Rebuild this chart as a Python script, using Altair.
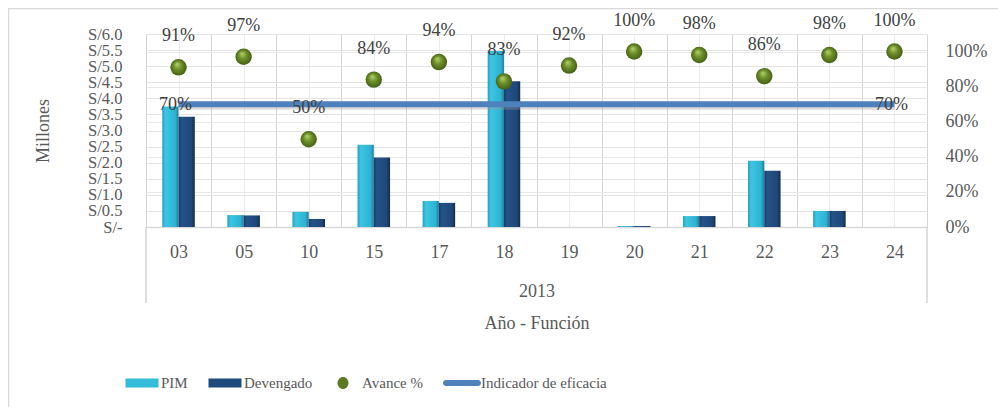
import json
import altair as alt
import pandas as pd

# ---- data ----
funciones = ['03', '05', '10', '15', '17', '18', '19', '20', '21', '22', '23', '24']
pim = [3.75, 0.37, 0.47, 2.56, 0.81, 5.47, 0.0, 0.03, 0.34, 2.06, 0.50, 0.0]
devengado = [3.43, 0.36, 0.25, 2.16, 0.75, 4.53, 0.0, 0.03, 0.34, 1.75, 0.50, 0.0]
avance = [0.91, 0.97, 0.50, 0.84, 0.94, 0.83, 0.92, 1.00, 0.98, 0.86, 0.98, 1.00]
indicador = [0.70] * 12
anio = '2013'
series = ['PIM', 'Devengado', 'Avance %', 'Indicador de eficacia']
left_ticks = [i * 0.5 for i in range(13)]
right_ticks = [0, 0.2, 0.4, 0.6, 0.8, 1.0]

df = pd.DataFrame({
    'idx': list(range(len(funciones))),
    'funcion': funciones,
    'pim': pim,
    'dev': devengado,
    'avance': avance,
    'ind': indicador,
})

FONT = 'Liberation Serif'
TXT = '#595959'
GRID = '#D9D9D9'
W, H = 781, 193
n = len(funciones)

xscale = alt.Scale(domain=[-0.5, n - 0.5], nice=False, zero=False)
xvals = [-0.5 + 0.5 * k for k in range(2 * n + 1)]
xaxis = alt.Axis(
    values=xvals,
    labelExpr="datum.value % 1 == 0 ? " + json.dumps(funciones) + "[datum.value] : ''",
    labelFlush=False, labelOverlap=False,
    grid=True,
    gridColor={"condition": {"test": "datum.value % 1 != 0", "value": "#D4D4D4"}, "value": "#ECECEC"},
    ticks=False, domainColor=GRID, domainWidth=1.5,
    labelFont=FONT, labelFontSize=18, labelColor=TXT, labelPadding=16,
    title=[anio, 'Año - Función'], titleFont=FONT, titleFontSize=18,
    titleFontWeight='normal', titleColor=TXT, titleBaseline='top',
    titleLineHeight=32, titleY=55, titleX=W / 2,
)


def X(field):
    return alt.X(field, scale=xscale, axis=xaxis)


yl_scale = alt.Scale(domain=[0, 6], nice=False, zero=True)
yl_axis = alt.Axis(
    orient='left', values=left_ticks,
    labelExpr="datum.value == 0 ? 'S/-' : 'S/' + format(datum.value, '.1f')",
    labelOverlap=False, labelFlush=False, ticks=False, domain=False,
    grid=True, gridColor='#E3E3E3',
    labelFont=FONT, labelFontSize=16.5, labelColor=TXT, labelPadding=24,
    title='Millones', titleFont=FONT, titleFontSize=18, titleFontWeight='normal',
    titleColor=TXT, titleX=-94, titleY=H / 2, titleAngle=-90, titleBaseline='bottom',
)

yr_scale = alt.Scale(domain=[0, 1.1], nice=False, zero=True)
yr_axis = alt.Axis(
    orient='right', values=right_ticks, format='.0%',
    labelOverlap=False, labelFlush=False, ticks=False, domain=False,
    grid=True, gridColor='#E8E8E8',
    labelFont=FONT, labelFontSize=18, labelColor=TXT, labelPadding=18,
    title=None,
)

pim_grad = alt.LinearGradient(
    gradient='linear', x1=0, y1=0, x2=1, y2=0,
    stops=[alt.GradientStop(offset=0, color='#2A9DBE'),
           alt.GradientStop(offset=0.2, color='#3CC6E4'),
           alt.GradientStop(offset=0.8, color='#2EB2D2'),
           alt.GradientStop(offset=1, color='#1C7E9C')])
dev_grad = alt.LinearGradient(
    gradient='linear', x1=0, y1=0, x2=1, y2=0,
    stops=[alt.GradientStop(offset=0, color='#1A3C66'),
           alt.GradientStop(offset=0.2, color='#24528A'),
           alt.GradientStop(offset=0.8, color='#1F4778'),
           alt.GradientStop(offset=1, color='#122B4C')])
ball = alt.RadialGradient(
    gradient='radial', x1=0.4, y1=0.3, r1=0, x2=0.5, y2=0.5, r2=0.55,
    stops=[alt.GradientStop(offset=0, color='#B9D46E'),
           alt.GradientStop(offset=0.45, color='#6E8F2A'),
           alt.GradientStop(offset=1, color='#3F5A12')])

base = alt.Chart(df)

# frame and category box (decoration)
frame = alt.Chart(pd.DataFrame({'k': [0]})).mark_rect(
    fillOpacity=0, stroke='#D9D9D9', strokeWidth=1.5
).encode(x=alt.value(-137.5), x2=alt.value(1100), y=alt.value(-25.5), y2=alt.value(600))

box = alt.Chart(pd.DataFrame({'x': [-0.5, n - 0.5]})).mark_rule(
    color='#D4D4D4', strokeWidth=1.5
).encode(x=X('x:Q'), y=alt.value(H), y2=alt.value(H + 76))

pim_bars = base.mark_bar(color=pim_grad).transform_calculate(
    x0='datum.idx - 0.25', x1='datum.idx'
).encode(x=X('x0:Q'), x2='x1:Q',
         y=alt.Y('pim:Q', scale=yl_scale, axis=yl_axis), y2=alt.datum(0))

dev_bars = base.mark_bar(color=dev_grad).transform_calculate(
    x0='datum.idx', x1='datum.idx + 0.25'
).encode(x=X('x0:Q'), x2='x1:Q',
         y=alt.Y('dev:Q', scale=yl_scale, axis=yl_axis), y2=alt.datum(0))

left = alt.layer(pim_bars, dev_bars)

YR = lambda f: alt.Y(f, scale=yr_scale, axis=yr_axis)

line_shadow = base.mark_line(color='#9A9A9A', strokeWidth=6, opacity=0.35, yOffset=2.5).encode(
    x=X('idx:Q'), y=YR('ind:Q'))
line = base.mark_line(color='#4F81BD', strokeWidth=6).encode(x=X('idx:Q'), y=YR('ind:Q'))
line_lbl = base.transform_filter(f'datum.idx == 0 || datum.idx == {n - 1}').mark_text(
    font=FONT, fontSize=18, color='#404040', baseline='middle', dy=1, dx=-3
).encode(x=X('idx:Q'), y=YR('ind:Q'), text=alt.Text('ind:Q', format='.0%'))

pts = base.mark_circle(size=270, color=ball, opacity=1).encode(x=X('idx:Q'), y=YR('avance:Q'))
pts_lbl = base.mark_text(
    font=FONT, fontSize=18, color='#404040', baseline='middle', dy=-31
).encode(x=X('idx:Q'), y=YR('avance:Q'), text=alt.Text('avance:Q', format='.0%'))

right = alt.layer(line_shadow, line, line_lbl, pts, pts_lbl)

# legend
shapes = [
    'M-1.65,-0.45L1.65,-0.45L1.65,0.45L-1.65,0.45Z',
    'M-1.65,-0.45L1.65,-0.45L1.65,0.45L-1.65,0.45Z',
    'M0,-0.6A0.55,0.6,0,1,1,0,0.6A0.55,0.6,0,1,1,0,-0.6Z',
    'M-1.6,-0.3L1.6,-0.3A0.3,0.3,0,0,1,1.6,0.3L-1.6,0.3A0.3,0.3,0,0,1,-1.6,-0.3Z',
]
colors = ['#33BCDB', '#1F4A7C', '#5C7A22', '#4F81BD']
leg = alt.Legend(
    orient='none', legendX=-14, legendY=339, direction='horizontal', columns=4,
    title=None, padding=0, columnPadding=20, symbolSize=400, labelOffset=9,
    symbolStrokeWidth=0, symbolOpacity=1, labelFont=FONT, labelFontSize=15,
    labelColor=TXT, labelLimit=300,
)
legend_layer = alt.Chart(pd.DataFrame({'serie': series})).mark_point(
    filled=True, opacity=0
).encode(
    color=alt.Color('serie:N', scale=alt.Scale(domain=series, range=colors), legend=leg),
    shape=alt.Shape('serie:N', scale=alt.Scale(domain=series, range=shapes), legend=leg),
)

chart = alt.layer(frame, left, right, box, legend_layer).resolve_scale(
    y='independent'
).properties(
    width=W, height=H,
    autosize=alt.AutoSizeParams(type='none'),
    padding={'left': 138, 'top': 26, 'right': 71, 'bottom': 180},
).configure(
    font=FONT
).configure_view(
    stroke=None
).configure_axis(
    labelFont=FONT, titleFont=FONT
).configure_legend(
    labelFont=FONT
).configure_text(
    font=FONT
)

chart.save('out.html', embed_options={'renderer': 'svg', 'actions': False})
